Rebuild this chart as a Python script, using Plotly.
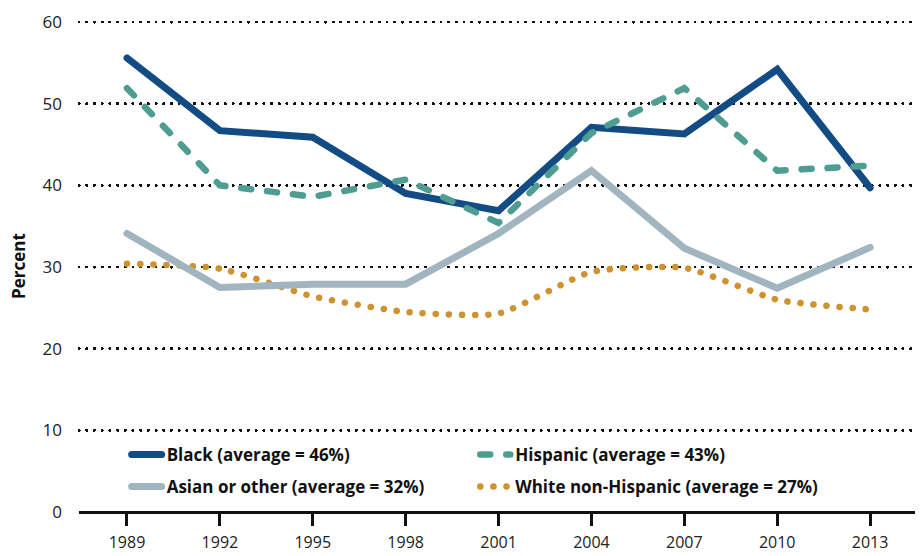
import plotly.graph_objects as go

years = [1989, 1992, 1995, 1998, 2001, 2004, 2007, 2010, 2013]
black = [55.6, 46.7, 45.9, 39.0, 36.9, 47.1, 46.3, 54.2, 39.7]
hispanic = [51.9, 40.0, 38.6, 40.7, 35.4, 46.4, 51.9, 41.8, 42.4]
asian = [34.1, 27.5, 27.9, 27.9, 34.1, 41.8, 32.3, 27.4, 32.4]
white = [30.4, 29.8, 26.4, 24.5, 24.3, 29.4, 29.9, 26.0, 24.8]

names = {
    "black": "Black (average = 46%)",
    "hispanic": "Hispanic (average = 43%)",
    "asian": "Asian or other (average = 32%)",
    "white": "White non-Hispanic (average = 27%)",
}
colors = {"black": "#134c85", "hispanic": "#4f9d90", "asian": "#a1b5c0", "white": "#cf9230"}

fig = go.Figure()
fig.add_trace(go.Scatter(x=years, y=white, mode="lines", name=names["white"], legend="legend4",
                         line=dict(color=colors["white"], width=6.5, dash="0.1px,13px", shape="spline", smoothing=0.55)))
fig.add_trace(go.Scatter(x=years, y=asian, mode="lines", name=names["asian"], legend="legend3",
                         line=dict(color=colors["asian"], width=7)))
fig.add_trace(go.Scatter(x=years, y=black, mode="lines", name=names["black"], legend="legend",
                         line=dict(color=colors["black"], width=7)))
fig.add_trace(go.Scatter(x=years, y=hispanic, mode="lines", name=names["hispanic"], legend="legend2",
                         line=dict(color=colors["hispanic"], width=6.5, dash="10px,16px")))

legfont = dict(family="Open Sans", size=17, color="#111111", weight="bold")
leg_common = dict(font=legfont, bgcolor="rgba(0,0,0,0)", borderwidth=0, yanchor="middle", xanchor="left",
                  visible=True)
fig.update_layout(
    width=921, height=556,
    showlegend=True,
    margin=dict(l=79, r=6, t=20, b=44, autoexpand=False),
    plot_bgcolor="white", paper_bgcolor="white",
    font=dict(family="Open Sans", size=16, color="#222222"),
    legend=dict(x=0.057, y=0.116, **leg_common),
    legend2=dict(x=0.474, y=0.116, **leg_common),
    legend3=dict(x=0.057, y=0.051, **leg_common),
    legend4=dict(x=0.474, y=0.051, **leg_common),
    xaxis=dict(range=[1987.45, 2014.45], tickvals=years, ticktext=[str(y) for y in years],
               showgrid=False, zeroline=False, showline=False, automargin=False,
               ticks="outside", ticklen=13, tickwidth=2.5, tickcolor="#111111",
               ticklabelstandoff=3,
               tickfont=dict(size=16, color="#222222")),
    yaxis=dict(range=[0, 60.245], tickvals=[0, 10, 20, 30, 40, 50, 60], automargin=False,
               showgrid=True, gridcolor="#111111", gridwidth=2.5, griddash="0.1px,7.6px",
               zeroline=True, zerolinecolor="#111111", zerolinewidth=3,
               showline=False, ticks="", ticklabelstandoff=16,
               tickfont=dict(size=17, color="#222222"),
               title=dict(text="Percent", font=dict(size=17, color="#111111", weight="bold"), standoff=12)),
)

post = """
var s=document.createElement('style');
s.textContent='html,body{margin:0;padding:0;overflow:hidden;} .js-line{stroke-linecap:round !important;} .ygrid{stroke-linecap:round !important;}';
document.head.appendChild(s);
"""
fig.write_html("out.html", post_script=post, config={"displayModeBar": False})
